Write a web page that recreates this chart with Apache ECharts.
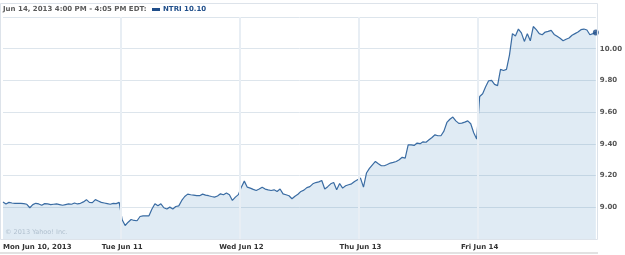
<!DOCTYPE html>
<html><head><meta charset="utf-8">
<script src="https://cdn.jsdelivr.net/npm/echarts@6/dist/echarts.min.js"></script>
<style>html,body{margin:0;padding:0;background:#fff}#c{width:625px;height:255px}</style>
</head><body><div id="c"></div>
<script>
const dayLabels = ['Mon Jun 10, 2013', 'Tue Jun 11', 'Wed Jun 12', 'Thu Jun 13', 'Fri Jun 14'];
const pointsPerDay = 40;
const mon = [9.034, 9.021, 9.031, 9.027, 9.025, 9.025, 9.025, 9.023, 9.019, 8.997, 9.017, 9.025, 9.021, 9.013, 9.023, 9.021, 9.017, 9.019, 9.021, 9.017, 9.013, 9.017, 9.021, 9.019, 9.027, 9.021, 9.025, 9.034, 9.048, 9.031, 9.029, 9.048, 9.040, 9.031, 9.027, 9.023, 9.019, 9.025, 9.023, 9.031];
const tue = [8.921, 8.885, 8.906, 8.923, 8.917, 8.915, 8.942, 8.946, 8.946, 8.946, 8.989, 9.022, 9.009, 9.022, 8.997, 8.989, 9.001, 8.989, 9.005, 9.009, 9.043, 9.068, 9.083, 9.079, 9.077, 9.073, 9.073, 9.083, 9.077, 9.073, 9.068, 9.064, 9.071, 9.085, 9.079, 9.090, 9.079, 9.043, 9.064, 9.080];
const wed = [9.127, 9.165, 9.127, 9.121, 9.113, 9.106, 9.115, 9.127, 9.115, 9.110, 9.106, 9.110, 9.100, 9.115, 9.085, 9.079, 9.073, 9.054, 9.070, 9.082, 9.100, 9.108, 9.124, 9.130, 9.148, 9.156, 9.160, 9.169, 9.115, 9.130, 9.148, 9.156, 9.110, 9.150, 9.121, 9.136, 9.142, 9.148, 9.163, 9.174];
const thu = [9.184, 9.127, 9.216, 9.245, 9.268, 9.289, 9.275, 9.262, 9.262, 9.270, 9.279, 9.283, 9.289, 9.300, 9.315, 9.310, 9.394, 9.394, 9.390, 9.405, 9.401, 9.413, 9.410, 9.426, 9.440, 9.457, 9.451, 9.451, 9.480, 9.535, 9.555, 9.569, 9.545, 9.529, 9.531, 9.537, 9.545, 9.527, 9.470, 9.430];
const fri = [9.699, 9.716, 9.760, 9.798, 9.800, 9.775, 9.767, 9.870, 9.863, 9.870, 9.960, 10.095, 10.080, 10.124, 10.100, 10.046, 10.095, 10.050, 10.140, 10.120, 10.095, 10.088, 10.105, 10.109, 10.116, 10.090, 10.078, 10.066, 10.050, 10.060, 10.068, 10.085, 10.095, 10.105, 10.120, 10.124, 10.118, 10.088, 10.095, 10.103];
const yTickLabels = ['9.00', '9.20', '9.40', '9.60', '9.80', '10.00'];
const headerText = 'Jun 14, 2013 4:00 PM - 4:05 PM EDT:';
const seriesName = 'NTRI 10.10';
const watermark = '\u00a9 2013 Yahoo! Inc.';

const days = [mon, tue, wed, thu, fri];
const data = [];
days.forEach((d, di) => d.forEach((v, i) => data.push([di * pointsPerDay + i, v])));
const last = data[data.length - 1];
const FONT = 'DejaVu Sans';

const chart = echarts.init(document.getElementById('c'), null, {renderer: 'canvas'});
chart.setOption({
  animation: false,
  title: {
    text: headerText, left: 3, top: 6, padding: 0,
    textStyle: {fontFamily: FONT, fontSize: 7, fontWeight: 'bold', color: '#5a5a5a'}
  },
  legend: {
    left: 152, top: 6, padding: 0, itemWidth: 8, itemHeight: 3, itemGap: 3,
    data: [{name: seriesName, icon: 'rect', itemStyle: {color: '#1f4e8a'}}],
    textStyle: {fontFamily: FONT, fontSize: 7, fontWeight: 'bold', color: '#1f4e8a', padding: [0, 0, 0, -2]}
  },
  grid: {left: 1, right: 27, top: 17, bottom: 16},
  xAxis: {
    type: 'value', min: 0, max: days.length * pointsPerDay - 1, interval: pointsPerDay,
    axisLine: {show: false}, axisTick: {show: false}, splitLine: {show: false},
    axisLabel: {
      formatter: v => dayLabels[v / pointsPerDay] || '',
      fontFamily: FONT, fontSize: 7, fontWeight: 'bold', color: '#333', margin: 5,
      alignMinLabel: 'left', showMaxLabel: false
    }
  },
  yAxis: {
    type: 'value', position: 'right', min: 8.8, max: 10.2, interval: 0.2,
    axisLine: {show: false}, axisTick: {show: false},
    splitLine: {lineStyle: {color: '#dde5ec', width: 1}},
    axisLabel: {
      formatter: v => { const s = v.toFixed(2); return yTickLabels.includes(s) ? s : ''; },
      fontFamily: FONT, fontSize: 7, fontWeight: 'bold', color: '#555', margin: 4, align: 'left'
    }
  },
  graphic: [
    {type: 'rect', shape: {x: 0.5, y: 3.5, width: 597, height: 236}, style: {fill: 'none', stroke: '#dde3ea', lineWidth: 1}, z: 100, silent: true},
    {type: 'rect', shape: {x: 0, y: 252, width: 598, height: 2}, style: {fill: '#e2e2e2'}, silent: true},
    {type: 'text', left: 5, top: 229, style: {text: watermark, fontFamily: FONT, fontSize: 6.5, fill: 'rgba(130,150,170,0.5)'}, z: 100, silent: true}
  ],
  series: [
    {
      name: seriesName, type: 'line', data: data, showSymbol: false, smooth: false,
      lineStyle: {color: '#3a6ca3', width: 1.2},
      itemStyle: {color: '#3a6ca3'},
      areaStyle: {color: 'rgba(50,120,180,0.21)', origin: 'start'},
      markLine: {
        silent: true, symbol: ['none', 'none'], label: {show: false},
        lineStyle: {color: '#e8eef4', width: 2, type: 'solid'},
        data: [1, 2, 3, 4].map(d => ({xAxis: d * pointsPerDay - 0.5}))
      }
    },
    {
      type: 'scatter', data: [last], symbol: 'circle', symbolSize: 6,
      itemStyle: {color: '#1f4e8a'}, z: 5, silent: true
    }
  ]
});
</script>
</body></html>
